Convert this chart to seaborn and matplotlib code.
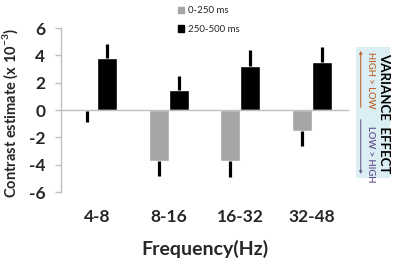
import matplotlib
matplotlib.use("Agg")
import matplotlib.pyplot as plt
import seaborn as sns
import pandas as pd
import numpy as np
from matplotlib.patches import Rectangle, FancyArrowPatch, Patch

# ---- data ----
bands = ["4-8", "8-16", "16-32", "32-48"]
windows = ["0-250 ms", "250-500 ms"]
early_vals = [-0.05, -3.75, -3.7, -1.55]
early_err = [0.85, 1.1, 1.2, 1.1]
late_vals = [3.8, 1.43, 3.2, 3.5]
late_err = [1.0, 1.05, 1.2, 1.1]
yticks = [-6, -4, -2, 0, 2, 4, 6]

sns.set_style("white")
plt.rcParams["font.family"] = ["Lato", "DejaVu Sans"]
plt.rcParams["axes.unicode_minus"] = False
plt.rcParams["mathtext.fontset"] = "custom"
plt.rcParams["mathtext.rm"] = "Lato"
plt.rcParams["mathtext.bf"] = "Lato:bold"

df = pd.DataFrame({
    "band": bands * 2,
    "window": [windows[0]] * 4 + [windows[1]] * 4,
    "value": early_vals + late_vals,
})

GRAY = "#A6A6A6"
AXC = "#BFBFBF"

fig = plt.figure(figsize=(3.97, 2.64), dpi=100)
ax = fig.add_axes([0.1537, 0.2727, 0.7229, 0.6212])

sns.barplot(data=df, x="band", y="value", hue="window", order=bands,
            hue_order=windows, palette=[GRAY, "black"], width=0.56,
            saturation=1, errorbar=None, ax=ax, legend=False)

# error bars (outward only)
errs = [early_err, late_err]
for cont, err in zip(ax.containers, errs):
    xs = [b.get_x() + b.get_width() / 2 for b in cont]
    vals = [b.get_y() + b.get_height() for b in cont]
    lower = [e if v < 0 else 0 for v, e in zip(vals, err)]
    upper = [e if v >= 0 else 0 for v, e in zip(vals, err)]
    ax.errorbar(xs, vals, yerr=[lower, upper], fmt="none", ecolor="black",
                elinewidth=2.3, capsize=0, zorder=3)

ax.set_xlim(-0.5, 3.5)
ax.set_ylim(-6, 6)
ax.set_yticks(yticks)
ax.set_yticklabels([str(t) for t in yticks], fontsize=12.5, fontweight="bold")

for s in ["top", "right"]:
    ax.spines[s].set_visible(False)
ax.spines["bottom"].set_position(("data", 0))
ax.spines["bottom"].set_color(AXC)
ax.spines["left"].set_color(AXC)
ax.spines["bottom"].set_linewidth(1)
ax.spines["left"].set_linewidth(1)

ax.set_xticks(range(len(bands)))
ax.set_xticklabels(bands, fontsize=12.5, fontweight="bold")
ax.set_xticks([0.5, 1.5, 2.5, 3.5], minor=True)
ax.tick_params(axis="x", which="major", length=0, pad=71)
ax.tick_params(axis="x", which="minor", length=4, color=AXC, width=1, direction="out")
ax.tick_params(axis="y", length=4.3, color=AXC, width=1, direction="out", pad=7, left=True)

ax.set_xlabel("Frequency(Hz)", fontsize=14, fontweight="bold")
ax.xaxis.set_label_coords(0.5, -0.29)
ax.set_ylabel(r"Contrast estimate (x 10$^{\mathbf{-3}}$)", fontsize=10.5, fontweight="bold")
ax.yaxis.set_label_coords(-0.143, 0.48)

# legend
handles = [Patch(color=GRAY), Patch(color="black")]
fig.legend(handles, windows, loc="upper left", bbox_to_anchor=(0.437, 0.995),
           frameon=False, fontsize=7, handlelength=0.6, handleheight=0.6,
           handletextpad=0.4, labelspacing=1.0, borderpad=0)

# right-side annotation
fig.add_artist(Rectangle((0.8967, 0.3258), 0.0856, 0.496, transform=fig.transFigure,
                         facecolor="#DAEEF3", edgecolor="none", zorder=0))
fig.text(0.967, 0.572, "VARIANCE  EFFECT", rotation=270, ha="center", va="center",
         fontsize=9.5, fontweight="bold", color="black")
fig.text(0.932, 0.697, "HIGH > LOW", rotation=270, ha="center", va="center",
         fontsize=6.8, fontweight="semibold", color="#C0652A")
fig.text(0.932, 0.415, "LOW > HIGH", rotation=270, ha="center", va="center",
         fontsize=6.8, fontweight="semibold", color="#5F4B8B")
fig.add_artist(FancyArrowPatch((0.9086, 0.583), (0.9086, 0.818), transform=fig.transFigure,
                               arrowstyle="-|>", mutation_scale=4, lw=0.8, color="#C0652A"))
fig.add_artist(FancyArrowPatch((0.9086, 0.557), (0.9086, 0.330), transform=fig.transFigure,
                               arrowstyle="-|>", mutation_scale=4, lw=0.8, color="#6E6590"))

fig.savefig("out.png", dpi=100)
